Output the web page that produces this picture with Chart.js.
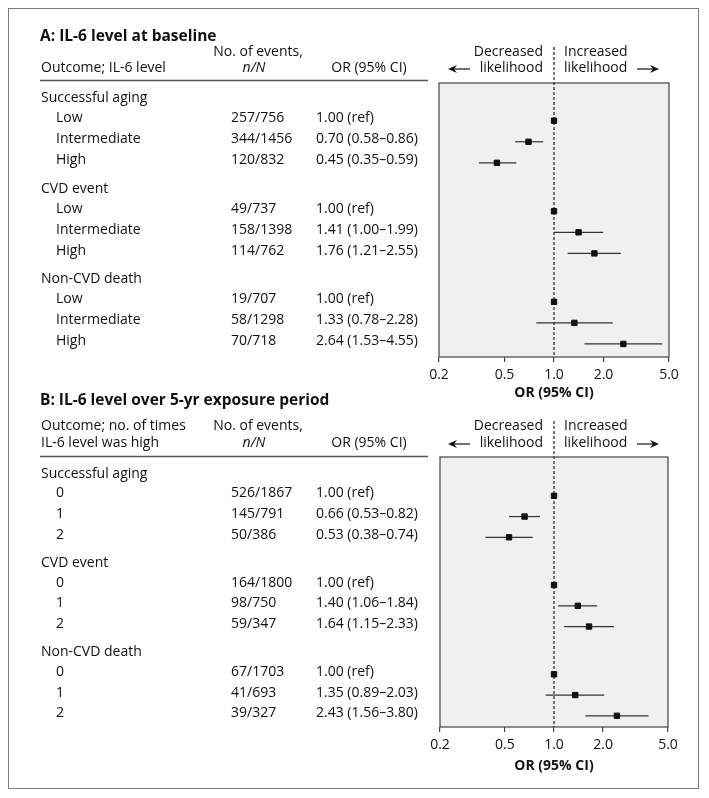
<!DOCTYPE html>
<html>
<head>
<meta charset="utf-8">
<script src="https://cdn.jsdelivr.net/npm/chart.js@4.4.1/dist/chart.umd.min.js"></script>
<style>
  html, body { margin: 0; padding: 0; background: #fff; }
  #page { position: relative; width: 709px; height: 798px; }
  #frame { position: absolute; left: 8px; top: 8px; width: 691px; height: 781px;
           border: 1.5px solid #7a7a7a; box-sizing: border-box; }
  canvas { position: absolute; left: 0; }
  #panelA { top: 0; }
  #panelB { top: 376px; }
</style>
</head>
<body>
<div id="page">
  <div id="frame"></div>
  <canvas id="panelA" width="709" height="404"></canvas>
  <canvas id="panelB" width="709" height="422"></canvas>
</div>
<script>
// outcomes shared by both panels
const groups = ['Successful aging', 'CVD event', 'Non-CVD death'];

// panel A: IL-6 level at baseline
const levelsA = ['Low', 'Intermediate', 'High'];
const eventsA = ['257/756', '344/1456', '120/832', '49/737', '158/1398', '114/762', '19/707', '58/1298', '70/718'];
const orA = [1.00, 0.70, 0.45, 1.00, 1.41, 1.76, 1.00, 1.33, 2.64];
const lowA = [null, 0.58, 0.35, null, 1.00, 1.21, null, 0.78, 1.53];
const highA = [null, 0.86, 0.59, null, 1.99, 2.55, null, 2.28, 4.55];

// panel B: no. of times IL-6 was high over 5 yr
const levelsB = ['0', '1', '2'];
const eventsB = ['526/1867', '145/791', '50/386', '164/1800', '98/750', '59/347', '67/1703', '41/693', '39/327'];
const orB = [1.00, 0.66, 0.53, 1.00, 1.40, 1.64, 1.00, 1.35, 2.43];
const lowB = [null, 0.53, 0.38, null, 1.06, 1.15, null, 0.89, 1.56];
const highB = [null, 0.82, 0.74, null, 1.84, 2.33, null, 2.03, 3.80];

const xTicks = [0.2, 0.5, 1, 2, 5];

const GROUP_STEP = 4.3;
const FONT = "'Open Sans', 'Noto Sans', sans-serif";
const INK = '#111';

Chart.defaults.font.family = FONT;
Chart.defaults.font.size = 14;
Chart.defaults.color = INK;

function rowValue(i) {
  return Math.floor(i / 3) * GROUP_STEP + (i % 3) + 1;
}

function orText(or, lo, hi) {
  if (lo === null) return or.toFixed(2) + ' (ref)';
  return or.toFixed(2) + ' (' + lo.toFixed(2) + '\u2013' + hi.toFixed(2) + ')';
}

function arrow(ctx, from, to, y) {
  const dir = Math.sign(to - from);
  ctx.beginPath();
  ctx.moveTo(from, y);
  ctx.lineTo(to - dir * 5, y);
  ctx.stroke();
  ctx.beginPath();
  ctx.moveTo(to, y);
  ctx.lineTo(to - dir * 9, y - 4);
  ctx.lineTo(to - dir * 6, y);
  ctx.lineTo(to - dir * 9, y + 4);
  ctx.closePath();
  ctx.fill();
}

function forestPlugin(p) {
  return {
    id: 'forest',
    beforeDraw(chart) {
      const {ctx, chartArea: a} = chart;
      ctx.save();
      ctx.fillStyle = '#f0f0f0';
      ctx.fillRect(a.left, a.top, a.right - a.left, a.bottom - a.top);
      ctx.restore();
    },
    beforeDatasetsDraw(chart) {
      const {ctx, chartArea: a} = chart;
      const x1 = chart.scales.x.getPixelForValue(1);
      ctx.save();
      ctx.strokeStyle = '#555';
      ctx.lineWidth = 1.6;
      ctx.setLineDash([3, 2]);
      ctx.beginPath();
      ctx.moveTo(x1, a.top - 36);
      ctx.lineTo(x1, a.bottom);
      ctx.stroke();
      ctx.restore();
    },
    afterDatasetsDraw(chart) {
      const {ctx, chartArea: a} = chart;
      ctx.save();
      ctx.strokeStyle = '#444';
      ctx.lineWidth = 1.2;
      ctx.strokeRect(a.left, a.top, a.right - a.left, a.bottom - a.top);
      ctx.restore();
    },
    afterDraw(chart) {
      const {ctx, chartArea: a} = chart;
      const y = chart.scales.y;
      const x1 = chart.scales.x.getPixelForValue(1);
      const t = a.top;
      ctx.save();
      ctx.fillStyle = INK;
      ctx.strokeStyle = INK;
      ctx.textBaseline = 'middle';

      // title
      ctx.font = 'bold 15.5px ' + FONT;
      ctx.textAlign = 'left';
      ctx.fillText(p.title, 40, t + p.titleDy);

      // column heads
      ctx.font = '14px ' + FONT;
      if (p.head1) ctx.fillText(p.head1, 41, t + p.line1Dy);
      ctx.fillText(p.head2, 41, t + p.line2Dy);
      ctx.textAlign = 'center';
      ctx.fillText('No. of events,', 258, t + p.line1Dy);
      ctx.fillText('OR (95% CI)', 369, t + p.line2Dy);
      ctx.font = 'italic 14px ' + FONT;
      ctx.fillText('n/N', 254, t + p.line2Dy);

      // rule under the heads
      ctx.strokeStyle = '#555';
      ctx.lineWidth = 1.3;
      ctx.beginPath();
      ctx.moveTo(40, t + p.ruleDy);
      ctx.lineTo(428, t + p.ruleDy);
      ctx.stroke();

      // direction labels above the plot
      ctx.font = '14px ' + FONT;
      ctx.textAlign = 'right';
      ctx.fillText('Decreased', x1 - 11, t + p.line1Dy);
      ctx.fillText('likelihood', x1 - 11, t + p.line2Dy);
      ctx.textAlign = 'left';
      ctx.fillText('Increased', x1 + 10, t + p.line1Dy);
      ctx.fillText('likelihood', x1 + 10, t + p.line2Dy);
      ctx.strokeStyle = INK;
      ctx.lineWidth = 1.2;
      arrow(ctx, x1 - 84, x1 - 106, t + p.line2Dy + 1);
      arrow(ctx, x1 + 83, x1 + 105, t + p.line2Dy + 1);

      // table rows
      ctx.textAlign = 'left';
      groups.forEach((g, gi) => {
        ctx.fillText(g, 41, y.getPixelForValue(gi * GROUP_STEP) - 1.5);
      });
      p.events.forEach((ev, i) => {
        const py = y.getPixelForValue(rowValue(i)) - 2.5;
        ctx.fillText(p.levels[i % 3], 56, py);
        ctx.fillText(ev, 231, py);
        ctx.fillText(orText(p.or[i], p.low[i], p.high[i]), 316, py);
      });
      ctx.restore();
    }
  };
}

function makePanel(id, p) {
  const ciSets = p.or.map((v, i) => ({
    data: p.low[i] === null ? [] : [{x: p.low[i], y: rowValue(i)}, {x: p.high[i], y: rowValue(i)}],
    showLine: true,
    borderColor: '#333',
    borderWidth: 1.2,
    pointRadius: 0
  }));
  return new Chart(document.getElementById(id), {
    type: 'scatter',
    data: {
      datasets: [{
        data: p.or.map((v, i) => ({x: v, y: rowValue(i)})),
        pointStyle: 'rect',
        pointRadius: 3.8,
        pointBorderWidth: 1,
        backgroundColor: '#111',
        borderColor: '#111'
      }].concat(ciSets)
    },
    options: {
      responsive: false,
      animation: false,
      events: [],
      layout: {padding: p.padding},
      plugins: {legend: {display: false}, tooltip: {enabled: false}},
      scales: {
        x: {
          type: 'logarithmic',
          min: 0.2,
          max: 5,
          afterBuildTicks: (s) => { s.ticks = xTicks.map(value => ({value})); },
          afterFit: (s) => { s.height = p.axisHeight; },
          border: {display: false},
          grid: {drawOnChartArea: false, drawTicks: true, tickLength: 5, color: '#444', lineWidth: 1.2},
          ticks: {padding: 5, maxRotation: 0, autoSkip: false, font: {size: 14}, color: INK,
                  callback: (v) => Number(v).toFixed(1)},
          title: {display: true, text: 'OR (95% CI)', padding: 0, color: INK,
                  font: {size: 14, weight: 'bold'}}
        },
        y: {
          type: 'linear',
          display: false,
          reverse: true,
          min: p.yMin,
          max: p.yMax
        }
      }
    },
    plugins: [forestPlugin(p)]
  });
}

makePanel('panelA', {
  title: 'A: IL-6 level at baseline',
  head1: null,
  head2: 'Outcome; IL-6 level',
  levels: levelsA, events: eventsA, or: orA, low: lowA, high: highA,
  titleDy: -46, line1Dy: -31, line2Dy: -15, ruleDy: -2.5,
  yMin: -0.79, yMax: 12.22,
  axisHeight: 44,
  padding: {left: 439, right: 40, top: 83, bottom: 3}
});

makePanel('panelB', {
  title: 'B: IL-6 level over 5-yr exposure period',
  head1: 'Outcome; no. of times',
  head2: 'IL-6 level was high',
  levels: levelsB, events: eventsB, or: orB, low: lowB, high: highB,
  titleDy: -56, line1Dy: -31, line2Dy: -14, ruleDy: -0.5,
  yMin: -0.87, yMax: 12.14,
  axisHeight: 47,
  padding: {left: 440, right: 41, top: 81, bottom: 24}
});
</script>
</body>
</html>
